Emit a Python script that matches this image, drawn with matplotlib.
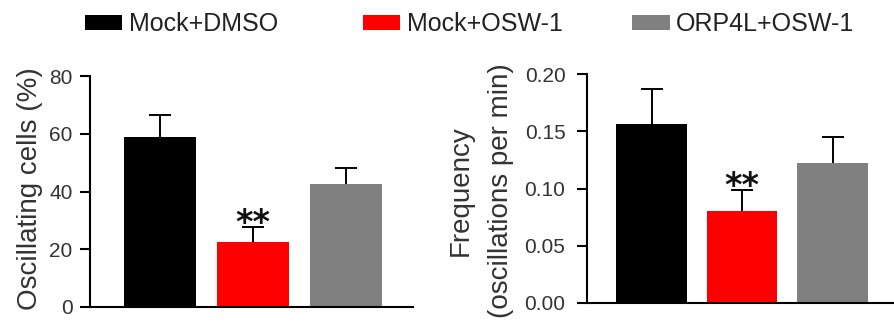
import matplotlib
matplotlib.use('Agg')
import matplotlib.pyplot as plt
import numpy as np

groups = ['Mock+DMSO', 'Mock+OSW-1', 'ORP4L+OSW-1']
colors = ['#000000', '#ff0000', '#808080']
osc_pct = [58.9, 22.5, 42.6]
osc_pct_err = [7.6, 5.2, 5.5]
freq = [0.156, 0.080, 0.122]
freq_err = [0.031, 0.019, 0.023]
osc_ticks = [0, 20, 40, 60, 80]
freq_ticks = [0.00, 0.05, 0.10, 0.15, 0.20]
sig_label = '**'

plt.rcParams['font.family'] = ['Liberation Sans', 'DejaVu Sans']

W, H = 895, 322
fig = plt.figure(figsize=(W / 100, H / 100), dpi=100)
ax1 = fig.add_axes([90 / W, 15 / H, (413 - 90) / W, 231 / H])
ax2 = fig.add_axes([587 / W, 19 / H, (W - 587) / W, 229 / H])

x = np.arange(len(groups))


def draw(ax, vals, errs, ticks, xlim, fmt, pad):
    bars = ax.bar(x, vals, width=0.775, color=colors, zorder=2)
    eb = ax.errorbar(x, vals, yerr=[np.zeros(len(vals)), errs], fmt='none',
                     ecolor='black', elinewidth=1.4, capsize=8, capthick=1.4,
                     zorder=3)
    eb[1][0].set_visible(False)  # hide lower caps (one-sided error bars)
    ax.set_xlim(*xlim)
    ax.set_ylim(ticks[0], ticks[-1])
    ax.set_yticks(ticks)
    ax.set_yticklabels([fmt.format(t) for t in ticks])
    ax.set_xticks([])
    for s in ['top', 'right']:
        ax.spines[s].set_visible(False)
    for s in ['left', 'bottom']:
        ax.spines[s].set_linewidth(1.5)
    ax.tick_params(axis='y', length=7.5, width=1.5, pad=pad,
                   labelsize=15, labelcolor='#333333')
    ax.patch.set_alpha(0)
    return bars


bars1 = draw(ax1, osc_pct, osc_pct_err, osc_ticks, (-0.753, 2.715), '{:.0f}', 5)
bars2 = draw(ax2, freq, freq_err, freq_ticks, (-0.713, 2.69), '{:.2f}', 8)

for ax, vals, errs in [(ax1, osc_pct, osc_pct_err), (ax2, freq, freq_err)]:
    ax.annotate(sig_label, xy=(1, vals[1] + errs[1]), xytext=(0, -4.5),
                textcoords='offset points', ha='center', va='baseline',
                fontsize=24, fontweight='bold', family='DejaVu Sans',
                color='#111111')

for i, xpos in enumerate([85, 363, 632]):
    leg = fig.legend([bars1[i]], [groups[i]], loc='center left',
                     bbox_to_anchor=(xpos / W, 1 - 24 / H), frameon=False,
                     fontsize=18, handlelength=1.5, handleheight=0.56,
                     handletextpad=0.25, borderpad=0, borderaxespad=0,
                     labelcolor='#222222')

fig.text(37 / W, 1 - 189 / H, 'Oscillating cells (%)', rotation=90,
         rotation_mode='anchor', ha='center', va='baseline', fontsize=20,
         color='#333333')
fig.text(468 / W, 1 - 191 / H, 'Frequency', rotation=90,
         rotation_mode='anchor', ha='center', va='baseline', fontsize=20,
         color='#333333')
fig.text(508 / W, 1 - 191 / H, '(oscillations per min)', rotation=90,
         rotation_mode='anchor', ha='center', va='baseline', fontsize=20,
         color='#333333')

fig.savefig('out.png', dpi=100)
